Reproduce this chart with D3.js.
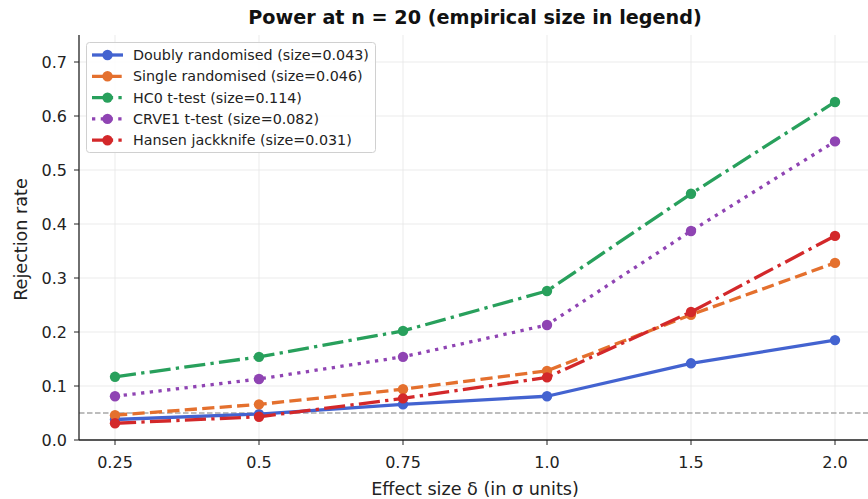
<!DOCTYPE html>
<html><head><meta charset="utf-8">
<script src="https://cdn.jsdelivr.net/npm/d3@7"></script>
<style>body{margin:0;background:#fff}svg{display:block;font-family:"DejaVu Sans",sans-serif}</style>
</head><body><svg id="c" width="868" height="499"></svg>
<script>
const categories = ["0.25","0.5","0.75","1.0","1.5","2.0"];
const yTicks = [0.0,0.1,0.2,0.3,0.4,0.5,0.6,0.7];
const seriesNames = ["Doubly randomised (size=0.043)","Single randomised (size=0.046)","HC0 t-test (size=0.114)","CRVE1 t-test (size=0.082)","Hansen jackknife (size=0.031)"];
const doubly = [0.038,0.048,0.066,0.081,0.142,0.185];
const single = [0.046,0.066,0.094,0.128,0.232,0.328];
const hc0 = [0.117,0.154,0.202,0.276,0.456,0.626];
const crve1 = [0.081,0.113,0.154,0.213,0.387,0.553];
const hansen = [0.031,0.043,0.077,0.116,0.237,0.378];
const nominal = 0.05;

const colors = ["#4363d0","#e4702e","#28a05c","#8f44b3","#d3282a"];
const LW = 3.3;
const dashes = [null,[3.7,1.6],[6.4,1.6,1,1.6],[1,1.65],[6.4,1.6,1,1.6]].map(p=>p?p.map(v=>v*LW).join(","):null);
const seriesVals = [doubly,single,hc0,crve1,hansen];

const svg = d3.select("#c");
const L=79, R=871, T=35, B=440;
const xi = d3.scaleLinear().domain([-0.25,5.25]).range([L,R]);
const X = c => xi(categories.indexOf(c));
const y = d3.scaleLinear().domain([0,0.75]).range([B,T]);

// grid
const g = svg.append("g");
g.selectAll(".gy").data(yTicks).join("line").attr("x1",L).attr("x2",R).attr("y1",d=>y(d)).attr("y2",d=>y(d)).attr("stroke","#e6e6e6").attr("stroke-width",0.8);
g.selectAll(".gx").data(categories).join("line").attr("x1",d=>X(d)).attr("x2",d=>X(d)).attr("y1",T).attr("y2",B).attr("stroke","#e6e6e6").attr("stroke-width",0.8);

// nominal line
svg.append("line").attr("x1",L).attr("x2",R).attr("y1",y(nominal)).attr("y2",y(nominal)).attr("stroke","#a8a8a8").attr("stroke-width",1.4).attr("stroke-dasharray","5.5,2.5");

// series
const line = d3.line().x((d,i)=>X(categories[i])).y(d=>y(d));
seriesVals.forEach((vals,k)=>{
  const s = svg.append("g");
  s.append("path").attr("d",line(vals)).attr("fill","none").attr("stroke",colors[k]).attr("stroke-width",LW).attr("stroke-dasharray",dashes[k]).attr("stroke-linejoin","round");
  s.selectAll("circle").data(vals).join("circle").attr("cx",(d,i)=>X(categories[i])).attr("cy",d=>y(d)).attr("r",5.2).attr("fill",colors[k]);
});

// axes
const ax = svg.append("g").attr("transform",`translate(0,${B})`);
ax.append("line").attr("x1",L).attr("x2",R).attr("stroke","#222").attr("stroke-width",1.3);
ax.selectAll(".t").data(categories).join("line").attr("x1",d=>X(d)).attr("x2",d=>X(d)).attr("y1",0).attr("y2",5).attr("stroke","#222").attr("stroke-width",1);
ax.selectAll("text").data(categories).join("text").attr("x",d=>X(d)).attr("y",28).attr("text-anchor","middle").attr("font-size",16).attr("fill","#222").text(d=>d);

const ay = svg.append("g");
ay.append("line").attr("x1",L).attr("x2",L).attr("y1",T).attr("y2",B).attr("stroke","#222").attr("stroke-width",1.3);
ay.selectAll(".t").data(yTicks).join("line").attr("x1",L-5).attr("x2",L).attr("y1",d=>y(d)).attr("y2",d=>y(d)).attr("stroke","#222").attr("stroke-width",1);
ay.selectAll("text").data(yTicks).join("text").attr("x",L-12).attr("y",d=>y(d)).attr("dy","0.36em").attr("text-anchor","end").attr("font-size",16).attr("fill","#222").text(d=>d.toFixed(1));

svg.append("text").attr("x",(L+R)/2).attr("y",495).attr("text-anchor","middle").attr("font-size",17.6).attr("fill","#222").text("Effect size δ (in σ units)");
svg.append("text").attr("transform",`translate(27,${(T+B)/2+2}) rotate(-90)`).attr("text-anchor","middle").attr("font-size",17.6).attr("fill","#222").text("Rejection rate");
svg.append("text").attr("x",(L+R)/2).attr("y",24).attr("text-anchor","middle").attr("font-size",19.2).attr("font-weight","bold").attr("fill","#111").text("Power at n = 20 (empirical size in legend)");

// legend
const lg = svg.append("g");
lg.append("rect").attr("x",86.5).attr("y",42.5).attr("width",289).attr("height",110).attr("rx",3).attr("fill","#fff").attr("fill-opacity",0.85).attr("stroke","#d0d0d0");
seriesNames.forEach((n,k)=>{
  const yy = 55 + k*21.3;
  lg.append("line").attr("x1",92).attr("x2",123).attr("y1",yy).attr("y2",yy).attr("stroke",colors[k]).attr("stroke-width",LW).attr("stroke-dasharray",dashes[k]);
  lg.append("circle").attr("cx",107.5).attr("cy",yy).attr("r",5.2).attr("fill",colors[k]);
  lg.append("text").attr("x",133).attr("y",yy).attr("dy","0.36em").attr("font-size",14.3).attr("fill","#222").text(n);
});
</script></body></html>
